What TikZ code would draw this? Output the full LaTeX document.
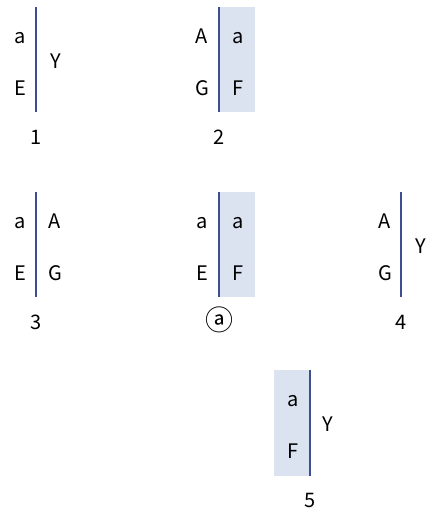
\documentclass[tikz,border=0pt]{standalone}
\usepackage{fontspec}
\setmainfont{Noto Sans CJK KR}
\definecolor{barblue}{HTML}{3D4F8F}
\definecolor{boxfill}{HTML}{DCE3F0}

\begin{document}
\begin{tikzpicture}[x=0.75pt, y=-0.75pt,
    font=\fontsize{15}{18}\selectfont,
    bar/.style={draw=barblue, line width=1.5pt},
    boxshade/.style={fill=boxfill},
    lbl/.style={inner sep=0pt, anchor=base}]
  \useasboundingbox (0,0) rectangle (427,512);

  % shaded boxes (2, circled a, 5)
  \fill[boxshade] (219,7) rectangle (255,112);
  \fill[boxshade] (219,192) rectangle (255,297);
  \fill[boxshade] (274,370) rectangle (310,476);

  % vertical bars
  \foreach \nm/\x/\ya/\yb in {one/36/7/112, two/219/7/112, three/36/192/297,
      circ/219/192/297, four/401/192/297, five/310/370/476} {
    \coordinate (\nm top) at (\x,\ya);
    \coordinate (\nm bot) at (\x,\yb);
    \draw[bar] (\nm top) -- (\nm bot);
  }

  % 1
  \node[lbl] (oneL1) at (20,43) {a};
  \node[lbl] (oneL2) at (20,95) {E};
  \node[lbl] (oneR)  at (56,68) {Y};
  \node[lbl] (oneN)  at (36,144) {1};

  % 2
  \node[lbl] (twoL1) at (202,43) {A};
  \node[lbl] (twoL2) at (202,95) {G};
  \node[lbl] (twoR1) at (238,43) {a};
  \node[lbl] (twoR2) at (238,95) {F};
  \node[lbl] (twoN)  at (219,144) {2};

  % 3
  \node[lbl] (threeL1) at (20,228) {a};
  \node[lbl] (threeL2) at (20,280) {E};
  \node[lbl] (threeR1) at (55,228) {A};
  \node[lbl] (threeR2) at (55,280) {G};
  \node[lbl] (threeN)  at (36,329) {3};

  % circled a
  \node[lbl] (circL1) at (202,228) {a};
  \node[lbl] (circL2) at (202,280) {E};
  \node[lbl] (circR1) at (238,228) {a};
  \node[lbl] (circR2) at (238,280) {F};
  \node[inner sep=0pt, font=\fontsize{21}{24}\selectfont] (circN) at (219,320) {ⓐ};

  % 4
  \node[lbl] (fourL1) at (385,228) {A};
  \node[lbl] (fourL2) at (385,280) {G};
  \node[lbl] (fourR)  at (421,253) {Y};
  \node[lbl] (fourN)  at (401,329) {4};

  % 5
  \node[lbl] (fiveL1) at (293,406) {a};
  \node[lbl] (fiveL2) at (293,458) {F};
  \node[lbl] (fiveR)  at (328,431) {Y};
  \node[lbl] (fiveN)  at (310,507) {5};

\end{tikzpicture}
\end{document}
